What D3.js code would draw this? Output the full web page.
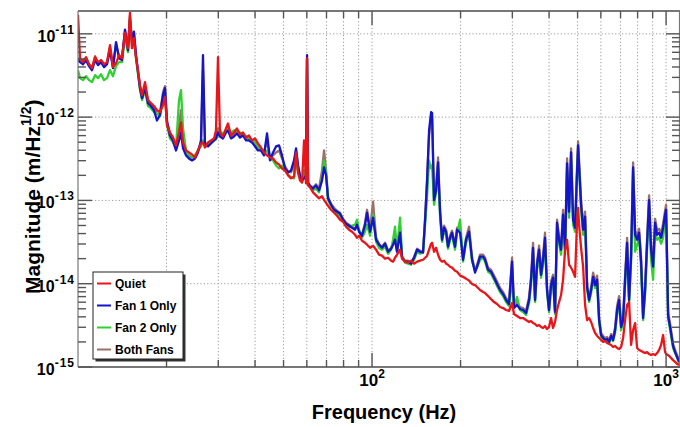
<!DOCTYPE html>
<html><head><meta charset="utf-8">
<script src="https://cdn.jsdelivr.net/npm/d3@7"></script>
<style>
body{margin:0;background:#fff}
text{font-family:"Liberation Sans",Arial,Helvetica,sans-serif;font-weight:bold;fill:#000}
</style></head>
<body><svg id="chart" width="680" height="427"></svg>
<script>
// Frequency (Hz), shared by all series
const freq = [
10.0,10.16,10.40,10.65,10.90,11.16,11.43,11.70,11.98,12.26,12.55,12.85,13.15,13.47,13.79,14.11,14.45,14.79,15.02,15.26,15.50,15.75,16.00,16.25,
16.51,16.90,17.30,17.71,18.13,18.56,19.00,19.46,19.76,20.08,20.55,21.04,21.54,22.06,22.40,22.76,23.30,23.85,24.42,25.00,25.59,26.20,26.61,27.03,27.68,28.33,29.01,29.46,29.93,30.40,31.12,31.86,32.37,33.14,
33.92,34.73,35.55,36.40,37.28,38.15,39.06,39.98,40.93,41.91,42.90,43.94,44.98,46.05,47.15,48.27,49.41,50.59,51.80,53.03,54.29,55.14,56.02,56.90,57.80,58.71,59.64,60.11,60.58,61.54,
63.00,64.50,66.03,67.60,68.67,69.75,70.85,72.54,74.26,76.02,77.83,79.68,81.57,83.51,85.50,87.53,88.91,90.32,92.46,94.66,96.16,98.45,100.8,103.2,105.6,
108.1,110.7,113.4,116.1,117.9,119.7,121.6,124.5,126.5,129.5,132.6,135.7,139.0,142.3,145.6,149.1,151.5,153.9,156.3,158.8,160.0,162.5,165.1,167.7,170.4,173.0,175.8,178.6,181.3,184.2,187.1,191.5,194.6,199.3,203.9,208.8,213.7,218.9,224.0,227.6,233.0,238.5,242.3,248.0,253.9,260.0,266.1,272.5,278.9,285.6,292.3,299.3,304.0,311.2,318.6,
326.3,334.0,342.0,347.3,352.8,358.4,364.0,369.8,375.6,381.5,387.5,393.7,399.8,406.2,412.6,419.1,425.7,432.5,439.4,446.3,453.4,460.5,467.8,475.2,482.7,490.3,498.1,502.0,505.9,513.9,522.1,530.3,538.7,547.2,555.9,564.7,573.6,582.7,591.9,601.1,610.7,620.4,630.0,640.0,650.2,660.3,670.8,681.3,692.1,703.1,714.2,725.4,736.9,748.5,760.2,772.3,784.5,796.8,809.4,822.2,835.1,848.3,861.7,875.3,889.1,903.2,917.5,932.0,946.6,961.6,976.8,992.2,1000,1016,1032,1056,1073,1090,1107
];

// Magnitude (m/Hz^1/2)
const quiet = [
1.69e-11,5.10e-12,4.57e-12,5.25e-12,4.32e-12,3.87e-12,5.25e-12,4.57e-12,4.83e-12,4.32e-12,4.57e-12,7.31e-12,3.98e-12,4.45e-12,5.55e-12,5.10e-12,1.03e-11,6.73e-12,1.79e-11,6.73e-12,8.87e-12,5.10e-12,3.66e-12,2.42e-12,
1.84e-12,2.63e-12,1.60e-12,1.47e-12,1.36e-12,1.21e-12,1.15e-12,1.39e-12,1.74e-12,7.94e-13,6.54e-13,5.70e-13,4.57e-13,6.54e-13,8.63e-13,4.97e-13,3.98e-13,3.77e-13,3.56e-13,3.28e-13,3.98e-13,4.83e-13,4.97e-13,4.32e-13,4.97e-13,5.25e-13,5.55e-13,6.92e-13,5.25e-12,6.54e-13,5.86e-13,7.31e-13,8.39e-13,6.02e-13,
6.54e-13,7.31e-13,6.19e-13,6.54e-13,5.70e-13,6.02e-13,5.25e-13,5.55e-13,4.83e-13,4.32e-13,3.77e-13,3.47e-13,3.28e-13,3.19e-13,2.86e-13,2.70e-13,2.42e-13,2.29e-13,2.00e-13,1.84e-13,1.94e-13,3.77e-13,2.17e-13,1.74e-13,1.64e-13,5.25e-13,1.60e-13,5.10e-12,1.51e-13,1.43e-13,
1.25e-13,1.15e-13,1.06e-13,1.12e-13,1.01e-13,9.37e-14,8.63e-14,7.72e-14,7.11e-14,6.54e-14,5.86e-14,5.55e-14,4.83e-14,4.45e-14,4.21e-14,3.87e-14,3.56e-14,3.77e-14,3.28e-14,3.10e-14,2.94e-14,2.70e-14,2.86e-14,2.56e-14,2.23e-14,
2.17e-14,2.00e-14,2.05e-14,1.89e-14,1.84e-14,2.05e-14,2.23e-14,2.56e-14,2.00e-14,1.84e-14,1.79e-14,1.89e-14,1.74e-14,1.84e-14,1.89e-14,1.94e-14,2.05e-14,2.17e-14,2.56e-14,3.02e-14,3.10e-14,2.42e-14,2.70e-14,2.23e-14,1.94e-14,1.84e-14,1.89e-14,1.74e-14,1.69e-14,1.60e-14,1.56e-14,1.43e-14,1.39e-14,1.25e-14,1.21e-14,1.15e-14,1.09e-14,9.9e-15,9.64e-15,9.12e-15,8.39e-15,7.94e-15,7.72e-15,7.11e-15,6.54e-15,6.02e-15,5.70e-15,5.25e-15,5.10e-15,4.83e-15,4.70e-15,5.86e-15,4.32e-15,4.09e-15,3.87e-15,
3.87e-15,3.66e-15,3.47e-15,3.56e-15,3.37e-15,3.28e-15,3.10e-15,3.19e-15,3.02e-15,2.94e-15,3.10e-15,2.86e-15,3.02e-15,3.87e-15,2.94e-15,3.47e-15,4.83e-15,6.02e-15,7.31e-15,1.12e-14,2.56e-14,3.37e-14,1.69e-14,1.56e-14,1.39e-14,1.21e-14,5.86e-14,8.16e-14,5.10e-14,2.70e-14,1.60e-14,5.55e-15,3.66e-15,3.87e-15,3.47e-15,2.94e-15,2.56e-15,2.36e-15,2.23e-15,2.11e-15,2.00e-15,2.05e-15,1.94e-15,1.89e-15,1.84e-15,1.74e-15,1.79e-15,1.69e-15,1.64e-15,1.74e-15,2.23e-15,3.66e-15,5.55e-15,6.02e-15,1.84e-15,2.78e-15,3.37e-15,1.69e-15,1.60e-15,1.56e-15,1.51e-15,1.47e-15,1.51e-15,1.43e-15,1.39e-15,1.43e-15,1.39e-15,1.47e-15,1.60e-15,1.84e-15,2.42e-15,1.51e-15,1.43e-15,1.39e-15,1.32e-15,1.21e-15,1.15e-15,1.09e-15,1.06e-15
];
const fan1 = [
4.83e-12,4.57e-12,4.32e-12,4.83e-12,4.09e-12,3.66e-12,4.83e-12,4.21e-12,4.57e-12,3.98e-12,4.32e-12,6.37e-12,3.87e-12,7.94e-12,5.10e-12,4.83e-12,1.12e-11,6.37e-12,1.47e-11,8.39e-12,1.06e-11,5.55e-12,3.47e-12,2.23e-12,
1.69e-12,2.23e-12,1.47e-12,1.36e-12,1.21e-12,9.12e-13,1.06e-12,1.84e-12,2.23e-12,8.63e-13,6.02e-13,5.25e-13,3.98e-13,5.25e-13,6.54e-13,4.21e-13,3.47e-13,3.19e-13,3.02e-13,3.19e-13,3.77e-13,5.25e-13,5.55e-12,4.57e-13,4.45e-13,4.83e-13,5.25e-13,5.55e-13,6.54e-13,5.86e-13,5.55e-13,6.54e-13,6.92e-13,5.55e-13,
5.86e-13,6.37e-13,5.70e-13,6.02e-13,5.25e-13,5.25e-13,4.97e-13,4.45e-13,3.98e-13,3.98e-13,3.47e-13,6.37e-13,3.02e-13,3.77e-13,4.45e-13,4.57e-13,3.47e-13,2.42e-13,2.17e-13,2.29e-13,3.02e-13,4.21e-13,2.63e-13,1.94e-13,1.74e-13,1.84e-13,2.00e-13,5.55e-12,1.64e-13,1.47e-13,
1.39e-13,1.51e-13,1.32e-13,1.74e-13,2.49e-13,2.00e-13,1.06e-13,8.87e-14,7.72e-14,7.31e-14,6.92e-14,5.86e-14,5.25e-14,4.97e-14,4.70e-14,4.45e-14,5.10e-14,4.21e-14,3.77e-14,5.10e-14,7.11e-14,4.21e-14,6.19e-14,3.37e-14,2.94e-14,
2.70e-14,3.02e-14,2.42e-14,2.63e-14,2.94e-14,3.37e-14,2.42e-14,4.09e-14,2.05e-14,1.84e-14,1.84e-14,1.74e-14,2.05e-14,2.56e-14,2.42e-14,2.36e-14,5.86e-14,1.74e-13,6.92e-13,1.15e-12,1.12e-12,1.01e-13,1.32e-13,2.86e-13,7.11e-14,3.37e-14,4.70e-14,4.21e-14,2.78e-14,3.56e-14,4.09e-14,2.78e-14,4.45e-14,4.09e-14,1.94e-14,3.37e-14,4.21e-14,1.94e-14,1.36e-14,1.60e-14,2.11e-14,2.11e-14,1.94e-14,1.47e-14,1.39e-14,1.18e-14,9.9e-15,8.39e-15,7.51e-15,6.37e-15,5.70e-15,1.84e-14,5.10e-15,5.55e-15,4.97e-15,
4.83e-15,4.45e-15,6.37e-15,1.12e-14,2.70e-14,6.37e-15,1.69e-14,2.56e-14,1.28e-14,1.94e-14,3.56e-14,8.39e-15,4.83e-15,9.64e-15,1.18e-14,4.57e-15,5.39e-14,3.37e-14,2.56e-14,6.73e-14,2.56e-14,2.78e-13,7.31e-14,3.77e-13,5.86e-14,4.70e-14,2.29e-13,4.57e-13,2.63e-13,8.87e-14,4.45e-14,6.37e-14,9.12e-15,6.37e-15,8.39e-15,1.21e-14,9.64e-15,1.12e-14,3.66e-15,2.42e-15,2.23e-15,2.11e-15,2.17e-15,2.00e-15,2.36e-15,2.11e-15,2.78e-15,4.83e-15,6.37e-15,3.02e-15,3.66e-15,1.12e-14,3.10e-14,6.37e-15,2.11e-14,2.49e-13,3.87e-14,3.37e-14,4.09e-14,1.84e-14,3.87e-15,8.39e-15,3.10e-14,1.01e-13,2.56e-14,1.60e-14,5.39e-14,3.87e-14,4.09e-14,3.56e-14,4.70e-14,6.73e-14,7.72e-14,4.09e-15,3.02e-15,1.79e-15,1.51e-15,1.32e-15,1.15e-15
];
const fan2 = [
3.66e-12,2.94e-12,2.78e-12,3.10e-12,2.78e-12,2.63e-12,3.19e-12,2.94e-12,3.28e-12,2.78e-12,2.94e-12,3.66e-12,3.10e-12,4.09e-12,4.57e-12,4.57e-12,9.37e-12,6.02e-12,1.56e-11,7.31e-12,8.39e-12,5.10e-12,3.28e-12,2.11e-12,
1.60e-12,2.11e-12,1.36e-12,1.28e-12,1.15e-12,1.09e-12,1.03e-12,1.60e-12,1.84e-12,7.94e-13,5.55e-13,4.97e-13,4.21e-13,1.60e-12,2.11e-12,7.31e-13,3.98e-13,3.19e-13,3.28e-13,3.47e-13,3.98e-13,4.45e-13,5.25e-13,4.57e-13,4.70e-13,4.97e-13,5.25e-13,5.39e-13,6.19e-13,6.92e-13,6.19e-13,6.92e-13,7.31e-13,6.54e-13,
6.92e-13,6.92e-13,6.54e-13,6.19e-13,5.86e-13,5.55e-13,5.25e-13,4.97e-13,4.45e-13,3.98e-13,3.66e-13,3.98e-13,3.19e-13,3.02e-13,2.63e-13,2.42e-13,2.63e-13,2.29e-13,2.05e-13,1.89e-13,1.84e-13,3.02e-13,2.17e-13,1.84e-13,1.64e-13,2.29e-13,1.74e-13,4.83e-12,1.56e-13,1.47e-13,
1.32e-13,1.39e-13,1.25e-13,1.84e-13,3.02e-13,2.17e-13,1.01e-13,8.63e-14,7.72e-14,6.92e-14,6.54e-14,5.55e-14,5.10e-14,4.70e-14,4.97e-14,5.10e-14,5.86e-14,4.45e-14,3.56e-14,4.21e-14,5.10e-14,3.77e-14,6.73e-14,3.19e-14,2.70e-14,
2.56e-14,2.78e-14,2.29e-14,2.56e-14,3.37e-14,4.83e-14,2.56e-14,6.19e-14,2.17e-14,1.79e-14,1.74e-14,1.69e-14,1.94e-14,2.42e-14,2.29e-14,2.42e-14,5.10e-14,1.15e-13,3.02e-13,2.42e-13,2.63e-13,8.87e-14,1.25e-13,2.42e-13,6.19e-14,3.19e-14,4.45e-14,3.77e-14,2.63e-14,3.37e-14,3.77e-14,2.56e-14,4.09e-14,5.86e-14,1.84e-14,3.10e-14,3.87e-14,1.84e-14,1.47e-14,1.56e-14,1.94e-14,2.05e-14,1.84e-14,1.39e-14,1.32e-14,1.12e-14,9.37e-15,7.94e-15,7.11e-15,6.02e-15,5.39e-15,1.12e-14,5.39e-15,6.92e-15,4.83e-15,
4.57e-15,4.21e-15,5.86e-15,9.64e-15,2.23e-14,6.02e-15,1.47e-14,2.05e-14,1.18e-14,1.69e-14,2.94e-14,7.94e-15,4.57e-15,8.87e-15,1.12e-14,4.32e-15,4.21e-14,3.02e-14,2.23e-14,5.55e-14,2.23e-14,2.29e-13,6.19e-14,3.02e-13,5.10e-14,4.21e-14,2.00e-13,3.77e-13,2.29e-13,7.72e-14,3.87e-14,5.55e-14,8.39e-15,6.02e-15,7.72e-15,1.12e-14,8.87e-15,9.9e-15,3.47e-15,2.29e-15,2.17e-15,2.05e-15,2.11e-15,1.94e-15,2.23e-15,2.05e-15,2.56e-15,4.32e-15,5.70e-15,2.78e-15,3.47e-15,9.64e-15,2.56e-14,5.86e-15,1.84e-14,2.00e-13,2.42e-14,2.94e-14,3.56e-14,1.56e-14,3.66e-15,7.51e-15,2.56e-14,7.72e-14,1.94e-14,1.12e-14,4.21e-14,3.37e-14,3.56e-14,3.02e-14,3.56e-14,5.55e-14,6.19e-14,3.87e-15,2.78e-15,1.69e-15,1.47e-15,1.28e-15,1.12e-15
];
const bothFans = [
5.10e-12,4.83e-12,4.83e-12,5.10e-12,4.32e-12,3.87e-12,5.39e-12,4.32e-12,4.83e-12,4.21e-12,4.57e-12,6.92e-12,4.09e-12,7.51e-12,5.39e-12,5.10e-12,1.09e-11,6.54e-12,1.64e-11,7.94e-12,1.00e-11,5.39e-12,3.47e-12,2.36e-12,
1.79e-12,2.36e-12,1.60e-12,1.43e-12,1.28e-12,1.09e-12,1.12e-12,2.00e-12,2.36e-12,9.12e-13,6.37e-13,5.55e-13,4.45e-13,7.94e-13,1.21e-12,5.25e-13,3.77e-13,3.47e-13,3.28e-13,3.37e-13,3.98e-13,4.97e-13,3.66e-12,4.70e-13,4.83e-13,5.10e-13,5.39e-13,5.86e-13,7.31e-13,6.37e-13,5.86e-13,6.92e-13,7.72e-13,6.02e-13,
6.19e-13,6.73e-13,6.02e-13,6.37e-13,5.55e-13,5.55e-13,5.10e-13,4.70e-13,4.21e-13,4.09e-13,3.77e-13,5.25e-13,3.28e-13,3.47e-13,3.77e-13,3.98e-13,3.19e-13,2.56e-13,2.23e-13,2.17e-13,2.63e-13,3.98e-13,2.56e-13,2.00e-13,1.79e-13,2.17e-13,1.94e-13,5.10e-12,1.64e-13,1.51e-13,
1.43e-13,1.56e-13,1.39e-13,2.29e-13,3.98e-13,2.29e-13,1.09e-13,9.12e-14,8.16e-14,7.51e-14,7.11e-14,6.02e-14,5.39e-14,5.10e-14,4.83e-14,4.57e-14,5.25e-14,4.32e-14,3.87e-14,5.39e-14,7.72e-14,4.45e-14,9.64e-14,3.56e-14,3.02e-14,
2.78e-14,3.10e-14,2.49e-14,2.70e-14,3.02e-14,3.56e-14,2.49e-14,4.45e-14,2.11e-14,1.89e-14,1.89e-14,1.79e-14,2.11e-14,2.63e-14,2.49e-14,2.42e-14,6.19e-14,1.84e-13,6.02e-13,9.7e-13,1.03e-12,1.06e-13,1.51e-13,3.28e-13,7.72e-14,3.56e-14,4.97e-14,4.45e-14,2.94e-14,3.77e-14,4.32e-14,2.94e-14,4.70e-14,4.45e-14,2.05e-14,3.56e-14,4.83e-14,2.05e-14,1.43e-14,1.69e-14,2.23e-14,2.23e-14,2.05e-14,1.56e-14,1.47e-14,1.25e-14,1.06e-14,8.87e-15,7.94e-15,6.73e-15,6.02e-15,2.05e-14,5.39e-15,6.02e-15,5.25e-15,
5.10e-15,4.70e-15,6.92e-15,1.21e-14,3.10e-14,6.73e-15,1.84e-14,2.86e-14,1.39e-14,2.17e-14,4.09e-14,8.87e-15,5.10e-15,1.06e-14,1.28e-14,4.83e-15,5.86e-14,3.66e-14,2.86e-14,7.72e-14,2.86e-14,3.19e-13,8.16e-14,4.21e-13,6.54e-14,5.10e-14,2.63e-13,5.10e-13,3.02e-13,1.01e-13,4.97e-14,7.31e-14,9.9e-15,6.73e-15,9.12e-15,1.36e-14,1.06e-14,1.25e-14,3.87e-15,2.56e-15,2.36e-15,2.23e-15,2.29e-15,2.11e-15,2.49e-15,2.23e-15,3.02e-15,5.39e-15,7.11e-15,3.28e-15,3.98e-15,1.25e-14,3.56e-14,6.92e-15,2.42e-14,2.86e-13,4.32e-14,3.77e-14,4.57e-14,2.05e-14,4.21e-15,9.37e-15,3.56e-14,1.15e-13,2.86e-14,1.84e-14,6.02e-14,4.32e-14,4.57e-14,3.98e-14,5.25e-14,7.51e-14,8.87e-14,4.57e-15,3.28e-15,1.89e-15,1.60e-15,1.39e-15,1.21e-15
];

const seriesNames = ["Quiet", "Fan 1 Only", "Fan 2 Only", "Both Fans"];
const seriesColors = ["#e8161b", "#1414c8", "#2fd02f", "#9a7068"];
const xTickLabelExps = [2, 3];
const yTickLabelExps = [-15, -14, -13, -12, -11];

const L = 78, R = 680, T = 11, B = 367;
const svg = d3.select("#chart");
const x = d3.scaleLog().domain([10, 1115]).range([L, R]);
const y = d3.scaleLog().domain([1e-15, 1.88e-11]).range([B, T]);

svg.append("rect").attr("width", 680).attr("height", 427).attr("fill", "#fff");
svg.append("defs").append("clipPath").attr("id", "clip")
  .append("rect").attr("x", L).attr("y", T).attr("width", R - L).attr("height", B - T);

const isMajor = v => Math.abs(Math.log10(v) - Math.round(Math.log10(v))) < 1e-6;
const xTicks = x.ticks().filter(v => v > 10 && v <= 1000);
const yTicks = y.ticks().filter(v => v >= 1e-15 && v <= 1.88e-11);

// grid
const grid = svg.append("g").attr("stroke", "#9a9a9a").attr("stroke-width", 1).attr("stroke-dasharray", "1.2,2.2");
grid.selectAll("line.v").data(xTicks).join("line").attr("class", "v")
  .attr("x1", d => x(d)).attr("x2", d => x(d)).attr("y1", T).attr("y2", B);
grid.selectAll("line.h").data(yTicks.filter(isMajor)).join("line").attr("class", "h")
  .attr("x1", L).attr("x2", R).attr("y1", d => y(d)).attr("y2", d => y(d));

// data
const seriesData = [quiet, fan1, fan2, bothFans];
const line = d3.line().x(d => x(d[0])).y(d => y(d[1]));
const plot = svg.append("g").attr("clip-path", "url(#clip)");
[3, 2, 1, 0].forEach(i => {
  const vals = seriesData[i];
  const pts = freq.map((f, k) => [f, vals[k]]).filter(p => p[1] !== undefined);
  plot.append("path").datum(pts).attr("d", line)
    .attr("fill", "none").attr("stroke", seriesColors[i])
    .attr("stroke-width", 2.3).attr("stroke-linejoin", "round");
});

// frame
const frame = svg.append("g").attr("stroke", "#777").attr("fill", "none");
frame.append("line").attr("x1", L).attr("x2", R).attr("y1", T).attr("y2", T).attr("stroke-width", 2);
frame.append("line").attr("x1", L).attr("x2", R).attr("y1", B).attr("y2", B).attr("stroke-width", 2);
frame.append("line").attr("x1", L).attr("x2", L).attr("y1", T).attr("y2", B).attr("stroke-width", 1.2);
frame.append("line").attr("x1", R - 0.5).attr("x2", R - 0.5).attr("y1", T).attr("y2", B).attr("stroke-width", 1.2);

// ticks
const tk = svg.append("g").attr("stroke", "#555").attr("stroke-width", 1.4);
xTicks.forEach(v => {
  const len = isMajor(v) ? 14 : 7;
  tk.append("line").attr("x1", x(v)).attr("x2", x(v)).attr("y1", B).attr("y2", B - len);
  tk.append("line").attr("x1", x(v)).attr("x2", x(v)).attr("y1", T).attr("y2", T + len);
});
yTicks.forEach(v => {
  const len = isMajor(v) ? 14 : 8;
  tk.append("line").attr("x1", L).attr("x2", L + len).attr("y1", y(v)).attr("y2", y(v));
  tk.append("line").attr("x1", R).attr("x2", R - len).attr("y1", y(v)).attr("y2", y(v));
});

// x tick labels
xTickLabelExps.forEach(e => {
  const t = svg.append("text").attr("x", x(Math.pow(10, e))).attr("y", 386)
    .attr("text-anchor", "middle").attr("font-size", 17);
  t.append("tspan").text("10");
  t.append("tspan").attr("font-size", 12).attr("dy", -8).text(String(e));
});
// y tick labels
yTickLabelExps.forEach(e => {
  const t = svg.append("text").attr("x", 75).attr("y", y(Math.pow(10, e)) + 8)
    .attr("text-anchor", "end").attr("font-size", 16);
  t.append("tspan").text("10");
  t.append("tspan").attr("font-size", 12).attr("dy", -8).attr("letter-spacing", 1).text(String(e));
});

// axis titles
svg.append("text").attr("x", 384).attr("y", 419).attr("text-anchor", "middle")
  .attr("font-size", 20).text("Frequency (Hz)");
const yl = svg.append("text").attr("transform", "translate(40,294) rotate(-90)")
  .attr("text-anchor", "start").attr("font-size", 21);
yl.append("tspan").text("Magnitude (m/Hz");
yl.append("tspan").attr("font-size", 14).attr("dy", -9).text("1/2");
yl.append("tspan").attr("dy", 9).text(")");

// legend
const lg = svg.append("g");
lg.append("rect").attr("x", 95.5).attr("y", 274.5).attr("width", 90).attr("height", 87).attr("fill", "#333");
lg.append("rect").attr("x", 93).attr("y", 272).attr("width", 90).attr("height", 87)
  .attr("fill", "#fff").attr("stroke", "#222").attr("stroke-width", 1);
seriesNames.forEach((n, i) => {
  const cy = 283.5 + i * 22;
  lg.append("line").attr("x1", 97).attr("x2", 111).attr("y1", cy).attr("y2", cy)
    .attr("stroke", seriesColors[i]).attr("stroke-width", 2);
  lg.append("text").attr("x", 115).attr("y", cy + 4.5).attr("font-size", 12).text(n);
});
</script></body></html>
